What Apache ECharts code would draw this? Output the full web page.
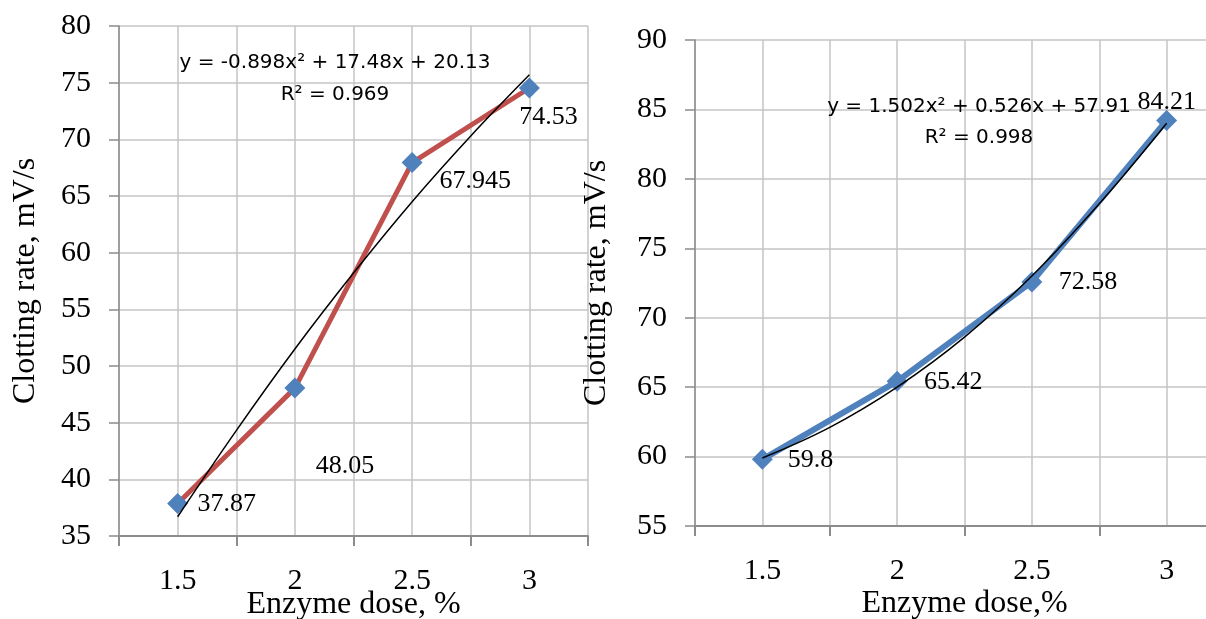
<!DOCTYPE html>
<html>
<head>
<meta charset="utf-8">
<script src="https://cdn.jsdelivr.net/npm/echarts@6/dist/echarts.min.js"></script>
<style>
  html, body { margin: 0; padding: 0; background: #fff; }
  #chart { width: 1206px; height: 619px; }
</style>
</head>
<body>
<div id="chart"></div>
<script>
// data
const doses = [1.5, 2, 2.5, 3];
const leftValues = [37.87, 48.05, 67.945, 74.53];
const rightValues = [59.8, 65.42, 72.58, 84.21];
// trend lines
const trendDoses = [1.5, 1.75, 2, 2.25, 2.5, 2.75, 3];
const leftTrend = [36.7, 44.3, 51.5, 58.2, 64.5, 70.3, 75.7];
const rightTrend = [59.9, 62.1, 65.0, 68.6, 73.0, 78.2, 84.0];
const xTickLabels = ['1.5', '2', '2.5', '3'];
const leftEquation = ['y = -0.898x² + 17.48x + 20.13', 'R² = 0.969'];
const rightEquation = ['y = 1.502x² + 0.526x + 57.91', 'R² = 0.998'];

// where Excel put the data labels (offset from the point, px)
const leftLabelOffsets = [[49, 1], [50, 78], [63, 19], [19, 29]];
const rightLabelOffsets = [[48, 1], [56, 1], [56, 0], [0, -18]];

const serif = '"Liberation Serif", "Times New Roman", serif';
const axisGray = '#8c8c8c';
const gridGray = '#c4c4c4';

function pairs(xs, ys) {
  return xs.map(function (x, i) { return [x, ys[i]]; });
}

function labelled(xs, ys, offsets) {
  return xs.map(function (x, i) {
    return {
      value: [x, ys[i]],
      label: { offset: offsets[i] }
    };
  });
}

function xAxes(gridIndex, name, nameGap) {
  return [
    {
      gridIndex: gridIndex,
      type: 'value', min: 1.25, max: 3.25, interval: 0.25,
      position: 'bottom',
      name: name, nameLocation: 'middle', nameGap: nameGap, nameMoveOverlap: false,
      nameTextStyle: { fontFamily: serif, fontSize: 32, color: '#000' },
      axisLine: { show: true, lineStyle: { color: axisGray, width: 2 } },
      axisTick: { show: false },
      axisLabel: {
        fontFamily: serif, fontSize: 30, color: '#000', margin: 30,
        formatter: function (v) {
          return xTickLabels.indexOf(String(v)) >= 0 ? String(v) : '';
        }
      },
      splitLine: { show: true, lineStyle: { color: gridGray, width: 1.5 } }
    },
    {
      // second axis only for the ticks between categories
      gridIndex: gridIndex,
      type: 'value', min: 1.25, max: 3.25, interval: 0.5,
      position: 'bottom',
      axisLine: { show: false },
      axisTick: { show: true, length: 10, lineStyle: { color: axisGray, width: 2 } },
      axisLabel: { show: false },
      splitLine: { show: false }
    }
  ];
}

function yAxis(gridIndex, min, max, nameGap) {
  return {
    gridIndex: gridIndex,
    type: 'value', min: min, max: max, interval: 5,
    name: 'Clotting rate, mV/s', nameLocation: 'middle', nameGap: nameGap, nameRotate: 90,
    nameMoveOverlap: false,
    nameTextStyle: { fontFamily: serif, fontSize: 32, color: '#000' },
    axisLine: { show: true, lineStyle: { color: axisGray, width: 1.5 } },
    axisTick: { show: true, length: 10, lineStyle: { color: axisGray, width: 1.5 } },
    axisLabel: { fontFamily: serif, fontSize: 30, color: '#000', margin: 28 },
    splitLine: { show: true, lineStyle: { color: gridGray, width: 1.5 } }
  };
}

function dataSeries(xIndex, yIndex, data, color, width) {
  return {
    type: 'line',
    xAxisIndex: xIndex, yAxisIndex: yIndex,
    data: data,
    symbol: 'diamond', symbolSize: 21,
    itemStyle: { color: '#4F81BD' },
    lineStyle: { color: color, width: width },
    label: {
      show: true, position: 'inside',
      fontFamily: serif, fontSize: 26, color: '#000',
      formatter: function (p) { return String(p.value[1]); }
    },
    z: 2
  };
}

function trendSeries(xIndex, yIndex, data) {
  return {
    type: 'line',
    xAxisIndex: xIndex, yAxisIndex: yIndex,
    data: data,
    symbol: 'none', smooth: 0.4,
    lineStyle: { color: '#000', width: 1.5 },
    silent: true,
    z: 3
  };
}

var chart = echarts.init(document.getElementById('chart'));
var option = {
  backgroundColor: '#fff',
  animation: false,
  grid: [
    { left: 119, top: 26, right: 618, bottom: 83, outerBoundsMode: 'none', containLabel: false },
    { left: 695, top: 40, right: -28, bottom: 93, outerBoundsMode: 'none', containLabel: false }
  ],
  xAxis: xAxes(0, 'Enzyme dose, %', 53).concat(xAxes(1, 'Enzyme dose,%', 62)),
  yAxis: [yAxis(0, 35, 80, 77), yAxis(1, 55, 90, 82)],
  graphic: [
    {
      type: 'text', x: 335, y: 47,
      style: {
        text: leftEquation.join('\n'), textAlign: 'center',
        fontFamily: '"DejaVu Sans", sans-serif', fontSize: 20, lineHeight: 32, fill: '#000'
      },
      z: 10
    },
    {
      type: 'text', x: 979, y: 91,
      style: {
        text: rightEquation.join('\n'), textAlign: 'center',
        fontFamily: '"DejaVu Sans", sans-serif', fontSize: 20, lineHeight: 31, fill: '#000'
      },
      z: 10
    }
  ],
  series: [
    dataSeries(0, 0, labelled(doses, leftValues, leftLabelOffsets), '#C0504D', 5),
    trendSeries(0, 0, pairs(trendDoses, leftTrend)),
    dataSeries(2, 1, labelled(doses, rightValues, rightLabelOffsets), '#4F81BD', 6),
    trendSeries(2, 1, pairs(trendDoses, rightTrend))
  ]
};
chart.setOption(option);
</script>
</body>
</html>
